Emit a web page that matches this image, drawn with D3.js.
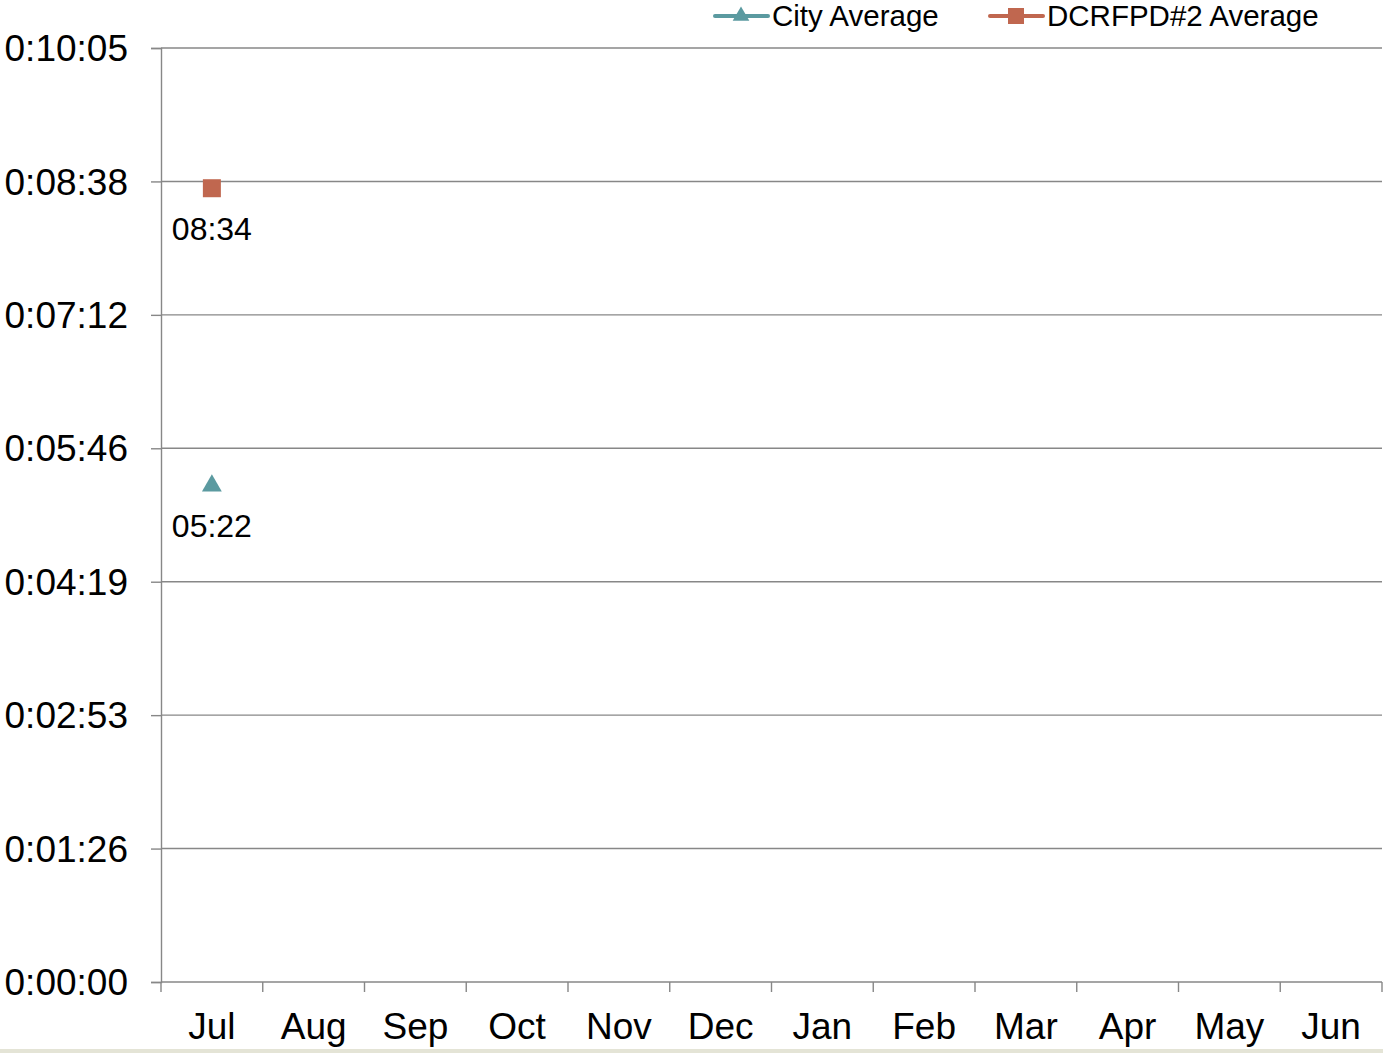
<!DOCTYPE html>
<html>
<head>
<meta charset="utf-8">
<script src="https://cdn.jsdelivr.net/npm/d3@7"></script>
<style>
  body { margin: 0; background: #fff; }
  svg { display: block; font-family: "Liberation Sans", Arial, sans-serif; }
</style>
</head>
<body>
<div id="chart"></div>
<script>
// 数据
const months = ['Jul', 'Aug', 'Sep', 'Oct', 'Nov', 'Dec', 'Jan', 'Feb', 'Mar', 'Apr', 'May', 'Jun'];
const yTicks = [0, 86.4, 172.8, 259.2, 345.6, 432, 518.4, 604.8]; // seconds (0.001 day steps)
const cityAvg = [{ month: 'Jul', sec: 322 }];       // 05:22
const dcrfpdAvg = [{ month: 'Jul', sec: 514 }];     // 08:34
const seriesNames = ['City Average', 'DCRFPD#2 Average'];
const seriesColors = ['#5b9aa0', '#c0674f'];

const W = 1383, H = 1053;
const margin = { top: 48, right: 1, bottom: 71, left: 161 };
const width = W - margin.left - margin.right;
const height = H - margin.top - margin.bottom;

const svg = d3.select('#chart').append('svg')
  .attr('width', W).attr('height', H);

// 底部浅色条
svg.append('rect').attr('x', 0).attr('y', 1049).attr('width', W).attr('height', 4).attr('fill', '#e4e4d6');

const g = svg.append('g').attr('transform', `translate(${margin.left},${margin.top})`);

const x = d3.scaleBand().domain(months).range([0, width]);
const y = d3.scaleLinear().domain([0, 604.8]).range([height, 0]);

const fmtAxis = s => {
  const t = Math.round(s);
  const h = Math.floor(t / 3600), m = Math.floor(t % 3600 / 60), sec = t % 60;
  return `${h}:${String(m).padStart(2, '0')}:${String(sec).padStart(2, '0')}`;
};
const fmtLabel = s => `${String(Math.floor(s / 60)).padStart(2, '0')}:${String(s % 60).padStart(2, '0')}`;

const axisColor = '#878787';

// 网格线
g.selectAll('.grid').data(yTicks.slice(1)).enter().append('line')
  .attr('x1', 0).attr('x2', width)
  .attr('y1', d => y(d)).attr('y2', d => y(d))
  .attr('stroke', axisColor).attr('stroke-width', 1.4);

// Y 轴
const yAxis = g.append('g')
  .call(d3.axisLeft(y).tickValues(yTicks).tickFormat(fmtAxis).tickSize(10).tickPadding(23));
yAxis.select('.domain').attr('stroke', axisColor).attr('stroke-width', 1.4);
yAxis.selectAll('.tick line').attr('stroke', axisColor).attr('stroke-width', 1.4);
yAxis.selectAll('.tick text').attr('fill', '#000').style('font-size', '37px').attr('dy', '0.34em');

// X 轴（刻度在类目边界上）
const xAxisG = g.append('g').attr('transform', `translate(0,${height})`);
xAxisG.append('line').attr('x1', 0).attr('x2', width).attr('stroke', axisColor).attr('stroke-width', 1.4);
const bounds = months.map(m => x(m)).concat([width]);
xAxisG.selectAll('.xt').data(bounds).enter().append('line')
  .attr('x1', d => d).attr('x2', d => d).attr('y1', 0).attr('y2', 10)
  .attr('stroke', axisColor).attr('stroke-width', 1.4);
xAxisG.selectAll('.xl').data(months).enter().append('text')
  .attr('x', d => x(d) + x.bandwidth() / 2).attr('y', 57)
  .attr('text-anchor', 'middle').style('font-size', '37px').text(d => d);

// 数据点
const cx = d => x(d.month) + x.bandwidth() / 2;
g.selectAll('.dc').data(dcrfpdAvg).enter().append('rect')
  .attr('x', d => cx(d) - 9).attr('y', d => y(d.sec) - 9)
  .attr('width', 18).attr('height', 18).attr('fill', seriesColors[1]);
g.selectAll('.ct').data(cityAvg).enter().append('path')
  .attr('d', d3.symbol(d3.symbolTriangle, 170))
  .attr('transform', d => `translate(${cx(d)},${y(d.sec) + 1})`)
  .attr('fill', seriesColors[0]);

// 数据标签
[cityAvg, dcrfpdAvg].forEach(series => {
  g.selectAll(null).data(series).enter().append('text')
    .attr('x', d => cx(d)).attr('y', d => y(d.sec) + 52)
    .attr('text-anchor', 'middle').style('font-size', '32px')
    .text(d => fmtLabel(d.sec));
});

// 图例
const legend = svg.append('g');
const legendX = [713, 988];
seriesNames.forEach((name, i) => {
  const lg = legend.append('g').attr('transform', `translate(${legendX[i]},16)`);
  lg.append('line').attr('x1', 2).attr('x2', 55).attr('stroke', seriesColors[i])
    .attr('stroke-width', 4).attr('stroke-linecap', 'round');
  if (i === 0) {
    lg.append('path').attr('d', d3.symbol(d3.symbolTriangle, 120)).attr('transform', 'translate(28,0)').attr('fill', seriesColors[i]);
  } else {
    lg.append('rect').attr('x', 20).attr('y', -8).attr('width', 16).attr('height', 16).attr('fill', seriesColors[i]);
  }
  lg.append('text').attr('x', 59).attr('y', 10).style('font-size', '29.5px').text(name);
});
</script>
</body>
</html>
